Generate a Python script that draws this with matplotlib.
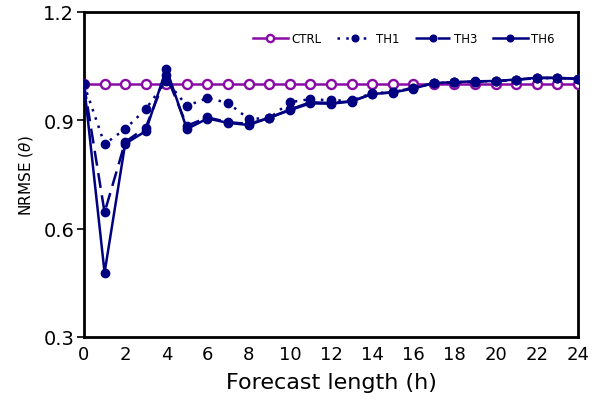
import matplotlib
matplotlib.use("Agg")
import matplotlib.pyplot as plt
import numpy as np

hours = list(range(25))
ctrl = [1.0] * 25
th1 = [1.0, 0.834, 0.876, 0.931, 1.01, 0.94, 0.962, 0.948, 0.904, 0.906, 0.95, 0.959, 0.955, 0.955, 0.975, 0.978, 0.99, 1.003, 1.005, 1.007, 1.009, 1.012, 1.017, 1.017, 1.015]
th3 = [1.0, 0.645, 0.84, 0.88, 1.025, 0.885, 0.908, 0.895, 0.89, 0.907, 0.93, 0.95, 0.948, 0.953, 0.973, 0.978, 0.99, 1.003, 1.005, 1.007, 1.008, 1.012, 1.017, 1.017, 1.015]
th6 = [1.0, 0.478, 0.835, 0.87, 1.043, 0.876, 0.905, 0.893, 0.887, 0.907, 0.928, 0.947, 0.946, 0.952, 0.973, 0.977, 0.988, 1.003, 1.006, 1.008, 1.009, 1.013, 1.018, 1.018, 1.015]

purple = "#8A0AA6"
navy = "#000080"

fig = plt.figure(figsize=(5.94, 4.06), dpi=100)
ax = fig.add_axes([0.1414, 0.1675, 0.8316, 0.8005])

ax.plot(hours, ctrl, color=purple, lw=1.8, marker='o', ms=6.5, mfc='white', mec=purple, mew=1.7, label='CTRL', zorder=3)
ax.plot(hours, th1, color=navy, lw=1.8, ls=(0, (1, 2.5)), marker='o', ms=6, mfc=navy, mec=navy, label='TH1', zorder=4)
ax.plot(hours, th3, color=navy, lw=1.8, ls=(0, (6, 3)), marker='o', ms=6, mfc=navy, mec=navy, label='TH3', zorder=4)
ax.plot(hours, th6, color=navy, lw=1.8, ls='-', marker='o', ms=6, mfc=navy, mec=navy, label='TH6', zorder=4)

ax.set_xlim(0, 24)
ax.set_ylim(0.3, 1.2)
ax.set_xticks(range(0, 25, 2))
ax.set_yticks([0.3, 0.6, 0.9, 1.2])
ax.set_yticklabels(['0.3', '0.6', '0.9', '1.2'], fontsize=14)
ax.set_xticklabels([str(v) for v in range(0, 25, 2)], fontsize=13)
ax.tick_params(axis='x', length=0, pad=6)
ax.tick_params(axis='y', length=5, width=1.2, direction='out', pad=2)
for s in ax.spines.values():
    s.set_linewidth(2)

ax.set_xlabel('Forecast length (h)', fontsize=16, labelpad=6)
ax.set_ylabel(r'NRMSE ($\theta$)', fontsize=11, labelpad=6)

leg = ax.legend(ncol=4, loc='upper right', bbox_to_anchor=(0.975, 0.97), frameon=False,
                fontsize=8.5, handlelength=3, columnspacing=1.3, handletextpad=0.3,
                markerscale=0.8)

fig.savefig('out.png', dpi=100)
